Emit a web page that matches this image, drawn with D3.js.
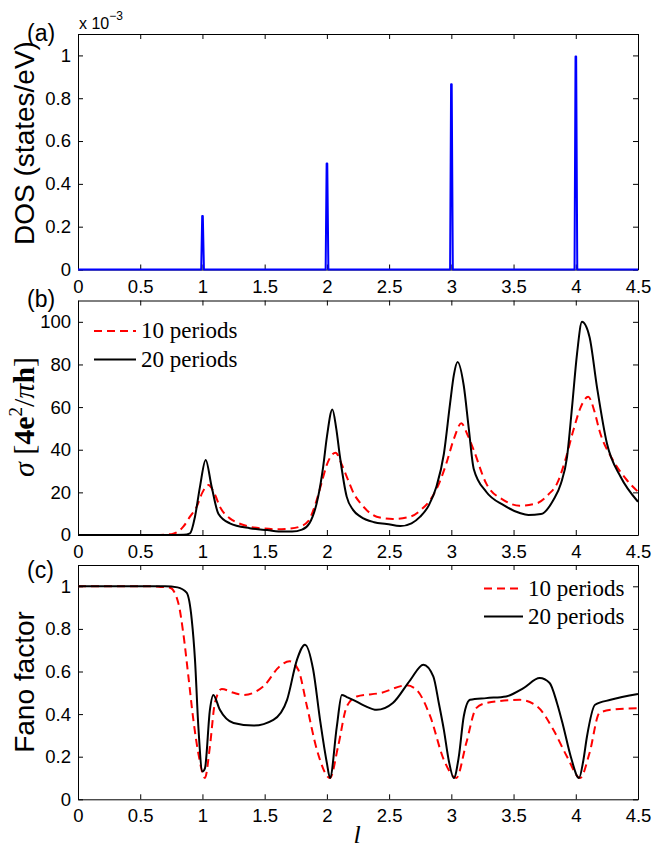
<!DOCTYPE html>
<html>
<head>
<meta charset="utf-8">
<script src="https://cdn.jsdelivr.net/npm/d3@7"></script>
<style>
  body { margin: 0; background: #fff; }
</style>
</head>
<body>
<script>

var width = 652;
var height = 848;

// x axis (shared)
var xTicks = [0, 0.5, 1, 1.5, 2, 2.5, 3, 3.5, 4, 4.5];

// (a) DOS, in units of 1e-3 states/eV
var dosL = [0, 0.99, 0.998, 1.003, 1.012, 1.99, 1.998, 2.003, 2.012, 2.99, 2.998, 3.003, 3.012, 3.99, 3.998, 4.003, 4.012, 4.5];
var dosV = [0, 0, 0.25, 0.25, 0, 0, 0.495, 0.495, 0, 0, 0.865, 0.865, 0, 0, 0.995, 0.995, 0, 0];
var dosTicks = [0, 0.2, 0.4, 0.6, 0.8, 1];

// (b) conductance
var cond10L = [0, 0.6, 0.75, 0.846, 0.9, 0.954, 1.0, 1.047, 1.1, 1.14, 1.22, 1.28, 1.38, 1.5, 1.6, 1.7, 1.78, 1.85, 1.918, 1.96, 2.0, 2.07, 2.12, 2.16, 2.22, 2.27, 2.4, 2.53, 2.67, 2.76, 2.83, 2.9, 2.96, 3.02, 3.08, 3.13, 3.18, 3.28, 3.42, 3.55, 3.69, 3.78, 3.85, 3.92, 3.98, 4.04, 4.1, 4.15, 4.19, 4.3, 4.41, 4.5];
var cond10V = [0, 0, 0.4, 3.9, 8.6, 13.3, 20, 23.4, 19, 13.3, 7.8, 5.8, 3.9, 3, 2.7, 3, 3.9, 6.5, 16.4, 25, 33, 38.6, 33, 27.3, 19, 14.9, 8.6, 7.5, 8.6, 12, 16.4, 24, 33.6, 45, 52.4, 47, 39.8, 24.2, 16.4, 13.7, 14.9, 19, 24.2, 36, 49, 60, 64.8, 58, 49, 35, 25.8, 20.3];
var cond20L = [0, 0.7, 0.85, 0.9, 0.94, 0.98, 1.026, 1.074, 1.128, 1.22, 1.38, 1.52, 1.65, 1.72, 1.8, 1.86, 1.93, 1.97, 2.0, 2.044, 2.075, 2.105, 2.159, 2.21, 2.27, 2.38, 2.48, 2.59, 2.68, 2.75, 2.82, 2.88, 2.94, 2.99, 3.02, 3.05, 3.1, 3.14, 3.18, 3.28, 3.42, 3.55, 3.62, 3.72, 3.82, 3.88, 3.93, 3.97, 4.01, 4.05, 4.11, 4.17, 4.25, 4.36, 4.5];
var cond20V = [0, 0, 0.1, 0.8, 8.6, 22.6, 35.2, 22.6, 10, 5.5, 3.2, 2.3, 1.6, 1.6, 2.5, 5.5, 18, 32, 46, 58.9, 50, 36.7, 18, 11.8, 8.6, 6, 5.2, 4.2, 5.5, 8.6, 14, 22.6, 38, 61.7, 75, 81.2, 70, 50, 31, 20.3, 14, 10.3, 9.4, 9.8, 16.4, 24, 36.7, 60, 85, 100, 93, 69.5, 43, 27.3, 15.6];
var condTicks = [0, 20, 40, 60, 80, 100];

// (c) Fano factor
var fano10L = [0, 0.6, 0.67, 0.74, 0.806, 0.846, 0.887, 0.927, 0.967, 1.02, 1.06, 1.1, 1.155, 1.25, 1.33, 1.49, 1.62, 1.70, 1.77, 1.84, 1.92, 2.025, 2.09, 2.16, 2.24, 2.43, 2.64, 2.72, 2.83, 2.94, 3.04, 3.12, 3.2, 3.28, 3.55, 3.69, 3.82, 3.93, 4.035, 4.11, 4.19, 4.28, 4.5];
var fano10V = [1, 1, 0.997, 0.993, 0.922, 0.78, 0.577, 0.373, 0.216, 0.1, 0.248, 0.452, 0.518, 0.5, 0.49, 0.53, 0.624, 0.648, 0.608, 0.436, 0.232, 0.1, 0.248, 0.436, 0.483, 0.499, 0.535, 0.514, 0.39, 0.185, 0.1, 0.264, 0.428, 0.452, 0.467, 0.436, 0.326, 0.2, 0.1, 0.216, 0.405, 0.42, 0.428];
var fano20L = [0, 0.7, 0.8, 0.873, 0.914, 0.94, 0.967, 1.0, 1.02, 1.06, 1.087, 1.14, 1.25, 1.41, 1.57, 1.68, 1.76, 1.824, 1.89, 1.945, 2.0, 2.025, 2.08, 2.12, 2.16, 2.21, 2.3, 2.40, 2.53, 2.67, 2.775, 2.855, 2.9, 2.94, 2.98, 3.02, 3.06, 3.1, 3.15, 3.28, 3.44, 3.58, 3.71, 3.79, 3.85, 3.90, 3.96, 4.026, 4.06, 4.09, 4.155, 4.28, 4.5];
var fano20V = [1, 1, 0.995, 0.97, 0.844, 0.656, 0.342, 0.13, 0.145, 0.42, 0.49, 0.42, 0.358, 0.346, 0.373, 0.467, 0.656, 0.726, 0.608, 0.373, 0.17, 0.1, 0.342, 0.49, 0.48, 0.467, 0.44, 0.42, 0.452, 0.56, 0.632, 0.577, 0.45, 0.326, 0.18, 0.1, 0.2, 0.39, 0.467, 0.475, 0.483, 0.522, 0.569, 0.546, 0.45, 0.342, 0.2, 0.1, 0.18, 0.295, 0.444, 0.467, 0.494];
var fanoTicks = [0, 0.2, 0.4, 0.6, 0.8, 1];

var sans = "'Liberation Sans', Arial, Helvetica, sans-serif";
var serif = "'Liberation Serif', 'Times New Roman', serif";

var svg = d3.select("body").append("svg")
  .attr("width", width)
  .attr("height", height)
  .style("background", "#fff");

var x = d3.scaleLinear().domain([0, 4.5]).range([78, 638]);
var fmt = d3.format("~g");

function zip(ls, vs) {
  return ls.map(function(l, i) { return [l, vs[i]]; });
}

function panel(top, bottom, ymax, yTicks) {
  var y = d3.scaleLinear().domain([0, ymax]).range([bottom, top]);

  var axes = [
    svg.append("g").attr("transform", "translate(0," + bottom + ")")
      .call(d3.axisBottom(x).tickValues(xTicks).tickFormat(fmt).tickSize(-5).tickSizeOuter(0).tickPadding(10)),
    svg.append("g").attr("transform", "translate(0," + top + ")")
      .call(d3.axisTop(x).tickValues(xTicks).tickFormat("").tickSize(-5).tickSizeOuter(0)),
    svg.append("g").attr("transform", "translate(78,0)")
      .call(d3.axisLeft(y).tickValues(yTicks).tickFormat(fmt).tickSize(-5).tickSizeOuter(0).tickPadding(7)),
    svg.append("g").attr("transform", "translate(638,0)")
      .call(d3.axisRight(y).tickValues(yTicks).tickFormat("").tickSize(-5).tickSizeOuter(0))
  ];
  axes.forEach(function(a) {
    a.attr("font-family", sans).attr("font-size", 18.5);
    a.selectAll("text").attr("fill", "#000");
    a.selectAll("path, line").attr("stroke", "#000").attr("stroke-width", 1);
  });
  return y;
}

function curve(y, ls, vs, color, dashed, shape) {
  var line = d3.line()
    .x(function(d) { return x(d[0]); })
    .y(function(d) { return y(d[1]); })
    .curve(shape || d3.curveMonotoneX);
  svg.append("path")
    .datum(zip(ls, vs))
    .attr("d", line)
    .attr("fill", "none")
    .attr("stroke", color)
    .attr("stroke-width", 2)
    .attr("stroke-linejoin", "round")
    .attr("stroke-dasharray", dashed ? "8,5" : null);
}

function legend(x0, x1, xt, y0, gap) {
  [["10 periods", "#ff0000", true], ["20 periods", "#000", false]].forEach(function(d, i) {
    var yy = y0 + i * gap;
    svg.append("line")
      .attr("x1", x0).attr("x2", x1).attr("y1", yy).attr("y2", yy)
      .attr("stroke", d[1]).attr("stroke-width", 2)
      .attr("stroke-dasharray", d[2] ? "8,5" : null);
    svg.append("text")
      .attr("x", xt).attr("y", yy + 7)
      .attr("font-family", serif).attr("font-size", 23)
      .text(d[0]);
  });
}

function panelLabel(t, px, py) {
  svg.append("text").attr("x", px).attr("y", py)
    .attr("font-family", sans).attr("font-size", 23).text(t);
}

function yLabel(t, cy) {
  return svg.append("text")
    .attr("transform", "translate(34," + cy + ") rotate(-90)")
    .attr("text-anchor", "middle")
    .attr("font-family", sans).attr("font-size", 28)
    .text(t);
}

// ---- (a)
var ya = panel(34, 269.5, 1.1, dosTicks);
curve(ya, dosL, dosV, "#0000ff", false, d3.curveLinear);
panelLabel("(a)", 27, 41);
yLabel("DOS (states/eV)", 143);
var expo = svg.append("text").attr("x", 79).attr("y", 29)
  .attr("font-family", sans).attr("font-size", 16).text("x 10");
expo.append("tspan").attr("dy", -9).attr("font-size", 12).text("\u22123");

// ---- (b)
var yb = panel(300.5, 535, 110, condTicks);
curve(yb, cond10L, cond10V, "#ff0000", true);
curve(yb, cond20L, cond20V, "#000", false);
panelLabel("(b)", 27, 307);
legend(94, 136, 141, 331, 28.5);
var lb = svg.append("text")
  .attr("transform", "translate(34,417) rotate(-90)")
  .attr("text-anchor", "middle")
  .attr("font-family", serif).attr("font-size", 30);
lb.append("tspan").attr("font-style", "italic").text("\u03c3 ");
lb.append("tspan").text("[");
lb.append("tspan").attr("font-weight", "bold").text("4e");
lb.append("tspan").attr("dy", -12).attr("font-size", 19).text("2");
lb.append("tspan").attr("dy", 12).text("/");
lb.append("tspan").attr("font-style", "italic").text("\u03c0");
lb.append("tspan").attr("font-weight", "bold").text("h");
lb.append("tspan").text("]");

// ---- (c)
var yc = panel(565, 799.3, 1.1, fanoTicks);
curve(yc, fano10L, fano10V, "#ff0000", true);
curve(yc, fano20L, fano20V, "#000", false);
panelLabel("(c)", 27, 578);
legend(484, 523, 528, 588.5, 28);
yLabel("Fano factor", 682);

svg.append("text")
  .attr("x", 357).attr("y", 843)
  .attr("text-anchor", "middle")
  .attr("font-family", serif).attr("font-style", "italic").attr("font-size", 26)
  .text("l");

</script>
</body>
</html>
